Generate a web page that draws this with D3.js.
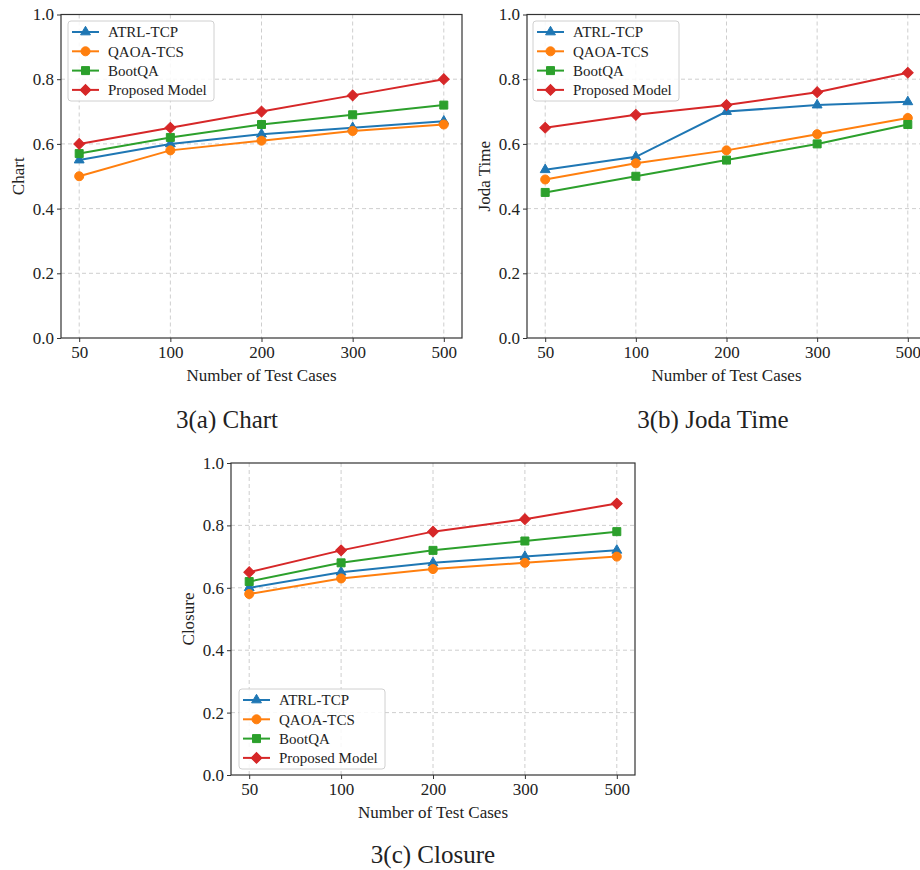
<!DOCTYPE html>
<html>
<head>
<meta charset="utf-8">
<script src="https://cdn.jsdelivr.net/npm/d3@7"></script>
<style>
  body { margin: 0; background: #fff; }
  svg { display: block; font-family: "Liberation Serif", "DejaVu Serif", serif; }
</style>
</head>
<body>
<div id="chart"></div>
<script>
// Shared categories and series names
const testCases = ["50", "100", "200", "300", "500"];
const seriesNames = ["ATRL-TCP", "QAOA-TCS", "BootQA", "Proposed Model"];
const yTicks = [0.0, 0.2, 0.4, 0.6, 0.8, 1.0];

// 3(a) Chart
const chartATRL = [0.55, 0.60, 0.63, 0.65, 0.67];
const chartQAOA = [0.50, 0.58, 0.61, 0.64, 0.66];
const chartBoot = [0.57, 0.62, 0.66, 0.69, 0.72];
const chartProp = [0.60, 0.65, 0.70, 0.75, 0.80];

// 3(b) Joda Time
const jodaATRL = [0.52, 0.56, 0.70, 0.72, 0.73];
const jodaQAOA = [0.49, 0.54, 0.58, 0.63, 0.68];
const jodaBoot = [0.45, 0.50, 0.55, 0.60, 0.66];
const jodaProp = [0.65, 0.69, 0.72, 0.76, 0.82];

// 3(c) Closure
const closureATRL = [0.60, 0.65, 0.68, 0.70, 0.72];
const closureQAOA = [0.58, 0.63, 0.66, 0.68, 0.70];
const closureBoot = [0.62, 0.68, 0.72, 0.75, 0.78];
const closureProp = [0.65, 0.72, 0.78, 0.82, 0.87];

const colors = ["#1f77b4", "#ff7f0e", "#2ca02c", "#d62728"];
const shapes = ["triangle", "circle", "square", "diamond"];

const svg = d3.select("#chart").append("svg")
  .attr("width", 920)
  .attr("height", 870);

function markerPath(shape) {
  if (shape === "triangle") return d3.symbol(d3.symbolTriangle, 42)();
  if (shape === "circle") return d3.symbol(d3.symbolCircle, 64)();
  return d3.symbol(d3.symbolSquare, shape === "square" ? 64 : 58)();
}

function drawMarker(g, shape, color, x, y) {
  g.append("path")
    .attr("d", markerPath(shape))
    .attr("transform", `translate(${x},${y})` + (shape === "diamond" ? " rotate(45)" : ""))
    .attr("fill", color)
    .attr("stroke", color)
    .attr("stroke-width", 1);
}

function drawPanel(p) {
  const g = svg.append("g");

  const x = d3.scalePoint().domain(testCases).range([p.left + 18.2, p.right - 18.2]);
  const y = d3.scaleLinear().domain([0, 1]).range([p.bottom, p.top]);

  // grid
  g.append("g").selectAll("line").data(testCases).join("line")
    .attr("x1", d => x(d)).attr("x2", d => x(d))
    .attr("y1", p.top).attr("y2", p.bottom)
    .attr("stroke", "#c8c8c8").attr("stroke-dasharray", "4,3").attr("stroke-width", 0.9);
  g.append("g").selectAll("line").data(yTicks.slice(1, -1)).join("line")
    .attr("x1", p.left).attr("x2", p.right)
    .attr("y1", d => y(d)).attr("y2", d => y(d))
    .attr("stroke", "#c8c8c8").attr("stroke-dasharray", "4,3").attr("stroke-width", 0.9);

  // axes
  const xAxis = g.append("g")
    .attr("transform", `translate(0,${p.bottom})`)
    .call(d3.axisBottom(x).tickSize(4).tickPadding(4));
  const yAxis = g.append("g")
    .attr("transform", `translate(${p.left},0)`)
    .call(d3.axisLeft(y).tickValues(yTicks).tickFormat(d3.format(".1f")).tickSize(4).tickPadding(3));
  [xAxis, yAxis].forEach(a => {
    a.select(".domain").remove();
    a.selectAll("line").attr("stroke", "#333");
    a.selectAll("text").attr("fill", "#222")
      .style("font-family", "'Liberation Serif', serif").style("font-size", "17px");
  });

  // frame
  g.append("rect")
    .attr("x", p.left).attr("y", p.top)
    .attr("width", p.right - p.left).attr("height", p.bottom - p.top)
    .attr("fill", "none").attr("stroke", "#333").attr("stroke-width", 1.2);

  // series
  p.series.forEach((vals, i) => {
    const pts = testCases.map((c, j) => [x(c), y(vals[j])]);
    g.append("path")
      .attr("d", d3.line()(pts))
      .attr("fill", "none")
      .attr("stroke", colors[i])
      .attr("stroke-width", 2);
    pts.forEach(pt => drawMarker(g, shapes[i], colors[i], pt[0], pt[1]));
  });

  // axis labels
  g.append("text")
    .attr("x", (p.left + p.right) / 2)
    .attr("y", p.bottom + 43)
    .attr("text-anchor", "middle")
    .style("font-size", "17px").attr("fill", "#222")
    .text("Number of Test Cases");
  g.append("text")
    .attr("transform", `translate(${p.left - 37},${(p.top + p.bottom) / 2}) rotate(-90)`)
    .attr("text-anchor", "middle")
    .style("font-size", "17px").attr("fill", "#222")
    .text(p.ylabel);

  // legend
  const lg = g.append("g").attr("transform", `translate(${p.legendX},${p.legendY})`);
  lg.append("rect")
    .attr("width", 146).attr("height", 80).attr("rx", 3)
    .attr("fill", "#fff").attr("fill-opacity", 0.85)
    .attr("stroke", "#d0d0d0").attr("stroke-width", 1);
  seriesNames.forEach((name, i) => {
    const ry = 11 + i * 19.3;
    lg.append("line")
      .attr("x1", 4).attr("x2", 31).attr("y1", ry).attr("y2", ry)
      .attr("stroke", colors[i]).attr("stroke-width", 2);
    drawMarker(lg, shapes[i], colors[i], 17.5, ry);
    lg.append("text")
      .attr("x", 40).attr("y", ry).attr("dy", "0.35em")
      .style("font-size", "15px").attr("fill", "#222")
      .text(name);
  });

  // caption
  svg.append("text")
    .attr("x", p.captionX).attr("y", p.captionY)
    .attr("text-anchor", "middle")
    .style("font-size", "25px").attr("fill", "#222")
    .text(p.caption);
}

drawPanel({
  left: 61, right: 462, top: 14.5, bottom: 338,
  series: [chartATRL, chartQAOA, chartBoot, chartProp],
  ylabel: "Chart", legendX: 68, legendY: 21,
  caption: "3(a) Chart", captionX: 227, captionY: 428
});

drawPanel({
  left: 527, right: 926, top: 14.5, bottom: 338,
  series: [jodaATRL, jodaQAOA, jodaBoot, jodaProp],
  ylabel: "Joda Time", legendX: 533, legendY: 21,
  caption: "3(b) Joda Time", captionX: 713, captionY: 428
});

drawPanel({
  left: 231, right: 635, top: 463, bottom: 775,
  series: [closureATRL, closureQAOA, closureBoot, closureProp],
  ylabel: "Closure", legendX: 239, legendY: 689,
  caption: "3(c) Closure", captionX: 433, captionY: 863
});
</script>
</body>
</html>
